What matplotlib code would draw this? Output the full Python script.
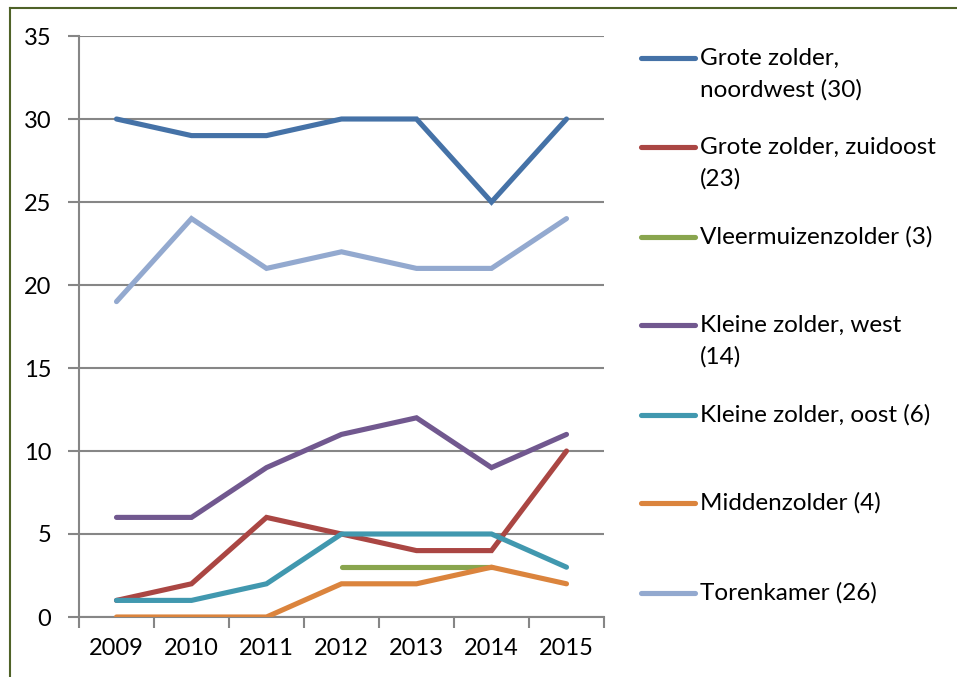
import matplotlib
matplotlib.use('Agg')
import numpy as np
import matplotlib.pyplot as plt
from matplotlib.lines import Line2D

plt.rcParams['font.family'] = ['Lato', 'DejaVu Sans']

# Data
years = ['2009', '2010', '2011', '2012', '2013', '2014', '2015']
grote_nw = [30, 29, 29, 30, 30, 25, 30]
grote_zo = [1, 2, 6, 5, 4, 4, 10]
vleermuis = [np.nan, np.nan, np.nan, 3, 3, 3, np.nan]
kleine_west = [6, 6, 9, 11, 12, 9, 11]
kleine_oost = [1, 1, 2, 5, 5, 5, 3]
midden = [0, 0, 0, 2, 2, 3, 2]
toren = [19, 24, 21, 22, 21, 21, 24]

labels = ['Grote zolder,\nnoordwest (30)', 'Grote zolder, zuidoost\n(23)', 'Vleermuizenzolder (3)',
          'Kleine zolder, west\n(14)', 'Kleine zolder, oost (6)', 'Middenzolder (4)', 'Torenkamer (26)']
series = [grote_nw, grote_zo, vleermuis, kleine_west, kleine_oost, midden, toren]
colors = ['#4572A7', '#AA4643', '#89A54E', '#71588F', '#4198AF', '#DB843D', '#93A9CF']

TICK_FS = 17
LEG_FS = 17.5
W, H = 957, 677
fig = plt.figure(figsize=(W / 100, H / 100), dpi=100)
ax = fig.add_axes([79 / W, 1 - 617 / H, (604 - 79) / W, (617 - 36) / H])

x = np.arange(len(years))
for vals, col in zip(series, colors):
    ax.plot(x, vals, color=col, linewidth=3.7, solid_capstyle='round', solid_joinstyle='miter', zorder=3)

ax.set_xlim(-0.5, len(years) - 0.5)
ax.set_ylim(0, 35)
ax.set_yticks(range(0, 36, 5))
ax.yaxis.grid(True, color='#868686', linewidth=1.5)
ax.set_axisbelow(True)

# category boundaries as major ticks, labels on minor ticks
ax.set_xticks(np.arange(-0.5, len(years), 1.0))
ax.set_xticklabels([])
ax.set_xticks(x, minor=True)
ax.set_xticklabels(years, minor=True)
ax.tick_params(axis='x', which='major', length=8, width=1.5, color='#868686')
ax.tick_params(axis='x', which='minor', length=0, pad=15, labelsize=TICK_FS)
ax.tick_params(axis='y', which='major', length=8, width=1.5, color='#868686', pad=12, labelsize=TICK_FS)

for side in ['top', 'right']:
    ax.spines[side].set_visible(False)
for side in ['left', 'bottom']:
    ax.spines[side].set_color('#868686')
    ax.spines[side].set_linewidth(1.5)

# Legend drawn on the right side
handle_y = [58, 147, 237, 325, 415, 503, 593]
for lab, col, hy in zip(labels, colors, handle_y):
    yf = 1 - hy / H
    fig.add_artist(Line2D([641 / W, 695 / W], [yf, yf], color=col, linewidth=3.7,
                          solid_capstyle='round', transform=fig.transFigure))
    for i, line in enumerate(lab.split('\n')):
        fig.text(700 / W, 1 - (hy + i * 32) / H, line, fontsize=LEG_FS, va='center', ha='left')

# Frame border (top and left visible)
fig.add_artist(Line2D([10 / W, 1], [1 - 7.5 / H, 1 - 7.5 / H], color='#4F6228', linewidth=1.5,
                      transform=fig.transFigure))
fig.add_artist(Line2D([10 / W, 10 / W], [0, 1 - 7.5 / H], color='#4F6228', linewidth=1.5,
                      transform=fig.transFigure))

fig.savefig('out.png', dpi=100, facecolor='white')
